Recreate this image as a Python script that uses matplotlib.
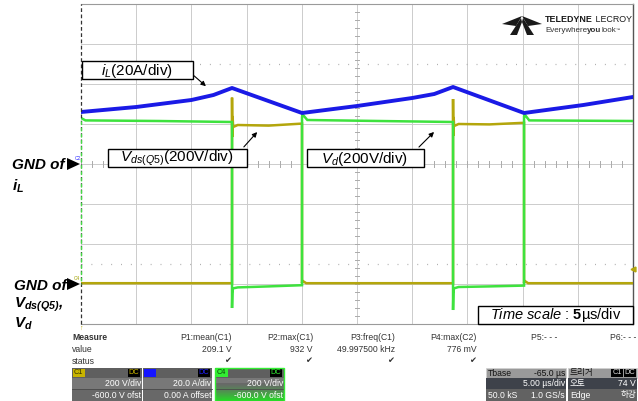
import numpy as np
import matplotlib
matplotlib.use('Agg')
import matplotlib.pyplot as plt
from matplotlib.patches import Rectangle, Polygon

plt.rcParams['font.family'] = ['Liberation Sans', 'DejaVu Sans']
plt.rcParams['mathtext.fontset'] = 'custom'
plt.rcParams['mathtext.rm'] = 'Liberation Sans'
plt.rcParams['mathtext.it'] = 'Liberation Sans:italic'
plt.rcParams['mathtext.bf'] = 'Liberation Sans:bold'
plt.rcParams['mathtext.bfit'] = 'Liberation Sans:italic:bold'

# ---------------- data ----------------
time_per_div = 5.0          # us/div
n_hdiv = 10
n_vdiv = 8

il_scale, il_offset = 20.0, 0.0       # A/div, A
v_scale, v_offset = 200.0, -600.0     # V/div, V

# inductor current iL (C2), A
t_il = [0, 5, 10, 12, 13.68, 20.02, 25, 30, 32, 33.70, 40.13, 45.5, 50]
il_A = [26, 28.5, 32, 34.5, 38, 25.5, 29, 33, 35, 38.5, 25.5, 29.5, 33.5]

# Vds(Q5) (C1), V
t_vds = [0, 13.68, 13.68, 13.70, 13.73, 13.78, 14.2, 17.0,
         20.02, 20.02, 20.06, 20.4,
         33.70, 33.70, 33.72, 33.75, 33.80, 34.2, 37.0,
         40.13, 40.13, 40.17, 40.5, 50]
v_vds = [4, 4, 932, 735, 840, 785, 795, 792,
         802, 4, 16, 4,
         4, 925, 740, 835, 790, 800, 798,
         806, 4, 16, 4, 4]

# Vd (C4), V
t_vd = [0, 0.4, 7, 13.68,
        13.68, 13.71, 13.76, 14.2, 17,
        20.02, 20.02, 20.07, 20.5, 27,
        33.70, 33.70, 33.73, 33.78, 34.2, 37,
        40.13, 40.13, 40.18, 40.6, 50]
v_vd = [830, 818, 815, 810,
        -120, -45, -22, -17, -12,
        -6, 835, 848, 820, 815,
        810, -130, -45, -22, -15, -12,
        -8, 838, 848, 818, 815]

meas_names = ['P1:mean(C1)', 'P2:max(C1)', 'P3:freq(C1)', 'P4:max(C2)', 'P5:- - -', 'P6:- - -']
meas_values = ['209.1 V', '932 V', '49.997500 kHz', '776 mV', '', '']
meas_status = [True, True, True, True, False, False]

trigger_level_V = 74.0

# ---------------- figure ----------------
W, H = 638, 401
fig = plt.figure(figsize=(W / 100, H / 100), dpi=100)
fig.patch.set_facecolor('white')

L, R, T, B = 81, 633, 4, 324
ax = fig.add_axes([L / W, 1 - B / H, (R - L) / W, (B - T) / H])
tmax = time_per_div * n_hdiv
ax.set_xlim(0, tmax)
ax.set_ylim(-n_vdiv / 2, n_vdiv / 2)
ax.set_xticks([]); ax.set_yticks([])
for s in ['top', 'bottom']:
    ax.spines[s].set_color('#9a9a9a'); ax.spines[s].set_linewidth(0.8)
ax.spines['right'].set_color('#555555'); ax.spines['right'].set_linewidth(1.0)
ax.spines['left'].set_visible(False)

grid_c = '#cccccc'
for i in range(1, n_hdiv):
    ax.axvline(i * time_per_div, color=grid_c, lw=0.7, zorder=1)
for j in range(-n_vdiv // 2 + 1, n_vdiv // 2):
    ax.axhline(j, color=grid_c, lw=0.7, zorder=1)
for yy in (2.5, -2.5):
    ax.axhline(yy, color='#b0b0b0', lw=0.9, ls=(0, (0.8, 7.1)), zorder=1)

# centre axis minor ticks
tc = tmax / 2
for k in np.arange(-n_vdiv / 2, n_vdiv / 2 + 0.01, 0.2):
    ax.plot([tc - 0.22, tc + 0.22], [k, k], color='#aaaaaa', lw=0.7, zorder=1)
for k in np.arange(0, tmax + 0.01, time_per_div / 5):
    ax.plot([k, k], [-0.065, 0.065], color='#aaaaaa', lw=0.7, zorder=1)

# left border (dashed)
ax.plot([0, 0], [-4, 4], color='#333333', lw=0.9, ls=(0, (3, 2)), zorder=6, clip_on=False)
v_hi = (v_vd[0] + v_offset) / v_scale
v_lo = (0 + v_offset) / v_scale
ax.plot([0, 0], [v_lo, v_hi], color='#44dd44', lw=0.9, ls=(2.5, (3, 2)), zorder=6, clip_on=False)

# traces
vds_div = (np.array(v_vds) + v_offset) / v_scale
vd_div = (np.array(v_vd) + v_offset) / v_scale
il_div = (np.array(il_A) + il_offset) / il_scale

ax.plot(t_vds, vds_div, color='#b4a60c', lw=1.8, zorder=3, solid_joinstyle='miter')
ax.plot(t_vd, vd_div, color='#3ee23e', lw=1.8, zorder=4, solid_joinstyle='miter')
ax.plot(t_il, il_div, color='#1a1ae6', lw=2.8, zorder=5)

# trigger level marker at right edge
trig_div = (trigger_level_V + v_offset) / v_scale
ax.plot([tmax], [trig_div], marker='<', color='#b4a60c', ms=3.5, clip_on=False, zorder=7)

# ---------------- overlay in pixel coordinates ----------------
ov = fig.add_axes([0, 0, 1, 1], zorder=10)
ov.patch.set_alpha(0)
ov.axis('off')
ov.set_xlim(0, W)
ov.set_ylim(H, 0)
ov.set_autoscale_on(False)
renderer = fig.canvas.get_renderer()

def chain(x, y, parts):
    for s, kw in parts:
        t = ov.text(x, y, s, ha='left', va='center', **kw)
        bb = t.get_window_extent(renderer)
        x = ov.transData.inverted().transform((bb.x1, bb.y0))[0]
    return x

def box(x0, y0, x1, y1, fc='white', ec='black', lw=1.0, z=2):
    ov.add_patch(Rectangle((x0, y0), x1 - x0, y1 - y0, fc=fc, ec=ec, lw=lw, zorder=z))

# annotation boxes
box(82, 61, 193, 79)
ov.text(137, 70.5, r'$\mathit{i}_{\mathit{L}}$(20A/div)', fontsize=11, ha='center', va='center', zorder=3)
ov.annotate('', xy=(208, 88), xytext=(192, 74),
            arrowprops=dict(arrowstyle='-|>', lw=0.8, color='black', mutation_scale=7), zorder=3)

box(108, 149, 247, 167)
ov.text(177, 158.5, r'$\mathit{V}_{\mathit{ds(Q5)}}$(200V/div)', fontsize=11, ha='center', va='center', zorder=3)
ov.annotate('', xy=(259, 130), xytext=(242, 149),
            arrowprops=dict(arrowstyle='-|>', lw=0.8, color='black', mutation_scale=7), zorder=3)

box(307, 149, 424, 167)
ov.text(365, 158.5, r'$\mathit{V}_{\mathit{d}}$(200V/div)', fontsize=11, ha='center', va='center', zorder=3)
ov.annotate('', xy=(436, 130), xytext=(417, 149),
            arrowprops=dict(arrowstyle='-|>', lw=0.8, color='black', mutation_scale=7), zorder=3)

box(478, 306, 633, 324)
ov.text(556, 315.5, r'$\mathit{Time\ scale\ }$:$\ \mathbf{5}$µs/div', fontsize=10.5, ha='center', va='center', zorder=3)

# GND labels
ov.text(12, 165, 'GND of', fontsize=11, fontweight='bold', style='italic', ha='left', va='center')
ov.text(12, 186, r'$\mathbfit{i}_{\mathbfit{L}}$', fontsize=11, ha='left', va='center')
ov.add_patch(Polygon([(67, 158), (80, 164), (67, 170)], closed=True, fc='black', ec='none'))
ov.text(75, 158, 'C2', fontsize=3.5, color='#3030ff', ha='left', va='center')

ov.text(14, 286, 'GND of', fontsize=11, fontweight='bold', style='italic', ha='left', va='center')
ov.text(14, 305, r'$\mathbfit{V}_{\mathbfit{ds(Q5)}}$,', fontsize=11, fontweight='bold', style='italic',
        ha='left', va='center')
ov.text(14, 324, r'$\mathbfit{V}_{\mathbfit{d}}$', fontsize=11, ha='left', va='center')
ov.add_patch(Polygon([(67, 278), (80, 284), (67, 290)], closed=True, fc='black', ec='none'))
ov.text(74, 278, 'C4', fontsize=3.5, color='#a0a000', ha='left', va='center')
ov.text(81, 328, '↑', fontsize=5, color='#b4a60c', ha='center', va='center')

# logo
lc = '#1a1a1a'
ov.add_patch(Polygon([(522, 16), (502, 24), (516, 26)], fc=lc, ec='none'))
ov.add_patch(Polygon([(522, 16), (542, 24), (528, 26)], fc=lc, ec='none'))
ov.add_patch(Polygon([(521, 18), (510, 35), (517, 35), (522, 22)], fc=lc, ec='none'))
ov.add_patch(Polygon([(523, 18), (534, 35), (527, 35), (522, 22)], fc=lc, ec='none'))
chain(545, 20, [('TELEDYNE', dict(fontsize=6.4, fontweight='bold', color=lc)),
                (' LECROY', dict(fontsize=6.4, color=lc))])
chain(545, 30, [('Everywhere', dict(fontsize=5.8, color='#333333')),
                ('you', dict(fontsize=5.8, fontweight='bold', color='#333333')),
                ('look', dict(fontsize=5.8, color='#333333')),
                ('™', dict(fontsize=3.2, color='#333333'))])

# measurement table
tcol = '#333333'
fs = 6.2
ov.text(72, 337, 'Measure', fontsize=fs, fontweight='bold', color=tcol, ha='left', va='center')
ov.text(72, 349, 'value', fontsize=fs, color=tcol, ha='left', va='center')
ov.text(72, 361, 'status', fontsize=fs, color=tcol, ha='left', va='center')
col_right = [232, 313, 395, 477, 557, 636]
for xr, nm, vl, st in zip(col_right, meas_names, meas_values, meas_status):
    ov.text(xr, 337, nm, fontsize=fs, color=tcol, ha='right', va='center')
    if vl:
        ov.text(xr, 349, vl, fontsize=fs, color=tcol, ha='right', va='center')
    if st:
        ov.text(xr - 4, 361, '✔', fontsize=6, color='#333333', ha='center', va='center')

# channel boxes
def chan_box(x0, x1, label, lab_bg, lab_fg, dc_fg, l2, l3, glow=False):
    box(x0, 368, x1, 378, fc='#5f5f5f', ec='none', lw=0)
    box(x0, 378, x1, 389, fc='#787878', ec='none', lw=0)
    box(x0, 389, x1, 401, fc='#686868', ec='none', lw=0)
    ov.plot([x0, x1], [389, 389], color='#4a4a4a', lw=0.6, zorder=3)
    if glow:
        g = np.zeros((20, 2, 4))
        base = np.array([0.41, 0.41, 0.41])
        grn = np.array([0.15, 0.85, 0.15])
        for i in range(20):
            f = (i / 19) ** 1.3
            g[i, :, :3] = base * (1 - f) + grn * f
            g[i, :, 3] = 1
        ov.imshow(g, extent=(x0, x1, 401, 383), aspect='auto', zorder=2.5, interpolation='bilinear')
        ov.add_patch(Rectangle((x0, 368), x1 - x0, 33, fc='none', ec='#33ee33', lw=1.0, zorder=4))
    box(x0 + 1, 369, x0 + 13, 377, fc=lab_bg, ec='none', lw=0, z=3)
    ov.text(x0 + 2, 373, label, fontsize=5.3, color=lab_fg, ha='left', va='center', zorder=4)
    box(x1 - 14, 369, x1 - 2, 377, fc='black', ec='none', lw=0, z=3)
    ov.text(x1 - 8, 373, 'DC', fontsize=5.3, color=dc_fg, ha='center', va='center', zorder=4)
    ov.text(x1 - 1, 384, l2, fontsize=fs, color='white', ha='right', va='center', zorder=4)
    ov.text(x1 - 1, 395, l3, fontsize=fs, color='white', ha='right', va='center', zorder=4)

chan_box(72, 142, 'C1', '#c8b400', '#333300', '#c8b400', '200 V/div', '-600.0 V ofst')
chan_box(143, 212, 'C2', '#1515ff', '#1515ff', '#2020ff', '20.0 A/div', '0.00 A offset')
chan_box(215, 284, 'C4', '#33ee33', '#0a4a0a', '#33ee33', '200 V/div', '-600.0 V ofst', glow=True)

# timebase / trigger boxes
def info_box(x0, x1):
    box(x0, 368, x1, 378, fc='#9a9a9a', ec='#d0d0d0', lw=0.6)
    box(x0, 378, x1, 389, fc='#3e424a', ec='none', lw=0)
    box(x0, 389, x1, 401, fc='#626262', ec='none', lw=0)

info_box(486, 566)
ov.text(488, 373, 'Tbase', fontsize=fs, color='#111111', ha='left', va='center', zorder=4)
ov.text(565, 373, '-65.0 µs', fontsize=fs, color='#111111', ha='right', va='center', zorder=4)
ov.text(565, 384, '5.00 µs/div', fontsize=fs, color='white', ha='right', va='center', zorder=4)
ov.text(488, 395, '50.0 kS', fontsize=fs, color='white', ha='left', va='center', zorder=4)
ov.text(565, 395, '1.0 GS/s', fontsize=fs, color='white', ha='right', va='center', zorder=4)

info_box(568, 637)
kfam = ['Noto Sans CJK KR', 'DejaVu Sans']
ov.text(570, 373, '트리거', fontsize=fs, color='#111111', family=kfam, ha='left', va='center', zorder=4)
box(611, 369, 623, 377, fc='black', ec='none', lw=0, z=3)
box(624, 369, 636, 377, fc='black', ec='none', lw=0, z=3)
ov.text(617, 373, 'C1', fontsize=5.3, color='#dddddd', ha='center', va='center', zorder=4)
ov.text(630, 373, 'DC', fontsize=5.3, color='#dddddd', ha='center', va='center', zorder=4)
ov.text(570, 384, '오토', fontsize=fs, color='white', family=kfam, ha='left', va='center', zorder=4)
ov.text(636, 384, '74 V', fontsize=fs, color='white', ha='right', va='center', zorder=4)
ov.text(570, 395, 'Edge', fontsize=fs, color='white', ha='left', va='center', zorder=4)
ov.text(636, 395, '하강', fontsize=fs, color='white', family=kfam, ha='right', va='center', zorder=4)

ov.set_xlim(0, W)
ov.set_ylim(H, 0)

fig.savefig('out.png', dpi=100, facecolor='white')
